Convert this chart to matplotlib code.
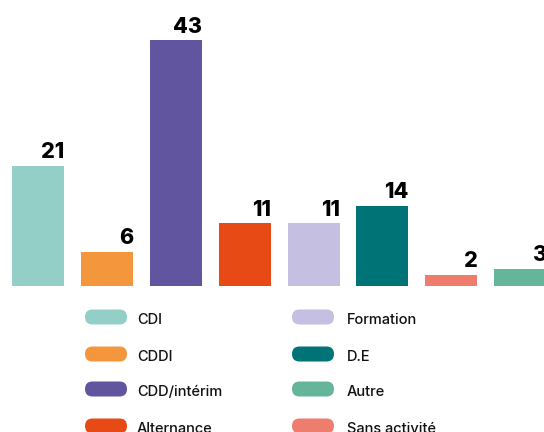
import matplotlib
matplotlib.use("Agg")
import matplotlib.pyplot as plt
from matplotlib.patches import FancyBboxPatch

categories = ["CDI", "CDDI", "CDD/intérim", "Alternance", "Formation", "D.E", "Sans activité", "Autre"]
values = [21, 6, 43, 11, 11, 14, 2, 3]
colors = ["#94CFC7", "#F4963C", "#62559F", "#E84A16", "#C5BFE1", "#007377", "#EF7D6E", "#65B59A"]
legend_col1 = ["CDI", "CDDI", "CDD/intérim", "Alternance"]
legend_col2 = ["Formation", "D.E", "Autre", "Sans activité"]

plt.rcParams['font.family'] = ['Inter', 'DejaVu Sans']

W, H = 544, 432
fig = plt.figure(figsize=(W / 100, H / 100), dpi=100)
base_px = 286
ax = fig.add_axes([0, (H - base_px) / H, 1, base_px / H])
step = 68.9
ax.set_xlim(-38 / step, (W - 38) / step)
ax.set_ylim(0, 43 * base_px / 246)
ax.axis("off")

x = list(range(len(values)))
width = 52 / step
bars = ax.bar(x, values, width=width, color=colors, linewidth=0)
for b, v in zip(bars, values):
    ax.annotate(str(v), (b.get_x() + b.get_width(), v), xytext=(0, 2.5),
                textcoords="offset points", ha="right", va="bottom",
                fontsize=15.5, fontweight="heavy", color="black", clip_on=False,
                annotation_clip=False)

cmap = dict(zip(categories, colors))
inch = fig.dpi_scale_trans
row_y = [317, 354, 389, 426]
for col, (px, tx) in zip([legend_col1, legend_col2], [(85, 137), (292, 347)]):
    for name, yc in zip(col, row_y):
        p = FancyBboxPatch(((px) / 100, (H - yc - 7.5) / 100), 42 / 100, 15 / 100,
                           boxstyle="round,pad=0,rounding_size=0.075",
                           transform=inch, facecolor=cmap[name], edgecolor="none")
        fig.add_artist(p)
        fig.text(tx / W, (H - yc - 3) / H, name, ha="left", va="center",
                 fontsize=10.5, fontweight="medium", color="#111111")

fig.savefig("out.png", dpi=100)
